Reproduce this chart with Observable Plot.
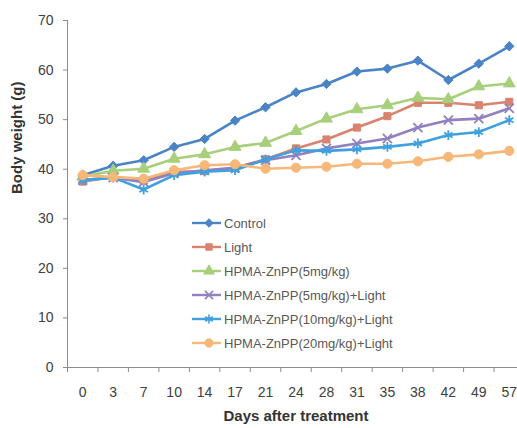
<!DOCTYPE html>
<html>
<head>
<meta charset="utf-8">
<script src="https://cdn.jsdelivr.net/npm/d3@7"></script>
<script src="https://cdn.jsdelivr.net/npm/@observablehq/plot@0.6"></script>
<style>
  html, body { margin: 0; padding: 0; background: #fff; }
  #wrap { position: relative; width: 517px; height: 428px; overflow: hidden; font-family: "Liberation Sans", Arial, sans-serif; }
  #legend { position: absolute; left: 192px; top: 211px; }
  .row { height: 24px; display: flex; align-items: center; font-size: 13px; color: #595959; white-space: nowrap; }
  .row svg { margin-right: 2px; }
</style>
</head>
<body>
<div id="wrap"><div id="legend"></div></div>
<script>
const days = ["0","3","7","10","14","17","21","24","28","31","35","38","42","49","57"];
const seriesNames = ["Control","Light","HPMA-ZnPP(5mg/kg)","HPMA-ZnPP(5mg/kg)+Light","HPMA-ZnPP(10mg/kg)+Light","HPMA-ZnPP(20mg/kg)+Light"];
const control = [38.8, 40.7, 41.8, 44.5, 46.1, 49.8, 52.5, 55.5, 57.2, 59.7, 60.3, 61.9, 58.0, 61.3, 64.8];
const light   = [37.5, 38.5, 37.7, 39.5, 39.6, 40.3, 42.0, 44.2, 46.0, 48.4, 50.7, 53.4, 53.4, 52.9, 53.6];
const hpma5   = [38.5, 39.7, 40.1, 42.1, 43.0, 44.5, 45.3, 47.7, 50.2, 52.1, 52.9, 54.4, 54.1, 56.7, 57.3];
const hpma5L  = [37.8, 38.3, 37.4, 39.2, 39.8, 40.3, 41.8, 42.8, 44.2, 45.2, 46.2, 48.4, 49.9, 50.2, 52.3];
const hpma10L = [37.8, 38.3, 35.9, 38.8, 39.5, 39.8, 42.0, 43.8, 43.7, 44.0, 44.5, 45.2, 46.9, 47.5, 49.9];
const hpma20L = [38.8, 38.4, 38.1, 39.8, 40.8, 41.0, 40.1, 40.3, 40.5, 41.1, 41.1, 41.6, 42.5, 43.0, 43.7];
const yTicks = [0, 10, 20, 30, 40, 50, 60, 70];

const allValues = [control, light, hpma5, hpma5L, hpma10L, hpma20L];
const colors = ["#4a84c6", "#d9836f", "#a7cf7c", "#9181c0", "#3fa0de", "#f6b878"];
const symbols = ["diamond2", "square", "triangle", "times", "asterisk", "circle"];
const strokeOnly = [false, false, false, true, true, false];
const sizes = [4.2, 4.0, 4.4, 4.2, 4.6, 4.6];

const table = [];
seriesNames.forEach((s, k) => allValues[k].forEach((v, i) => table.push({series: s, k, i, day: days[i], value: v})));

const marks = [
  Plot.ruleY([0], {stroke: "#8c8c8c", strokeWidth: 1}),
  Plot.ruleX([-0.5], {stroke: "#8c8c8c", strokeWidth: 1}),
  Plot.axisY({ticks: yTicks, tickSize: 4, tickPadding: 10, fontSize: 14, color: "#404040", stroke: "#8c8c8c", label: null}),
  Plot.axisX({ticks: d3.range(-0.5, days.length, 1), tickSize: 5, tickFormat: () => "", stroke: "#8c8c8c", label: null}),
  Plot.axisX({ticks: d3.range(days.length), tickSize: 0, tickPadding: 20, tickFormat: i => days[i], fontSize: 14, color: "#404040", label: null}),
  Plot.text(["Days after treatment"], {frameAnchor: "bottom", dy: 53, fontSize: 15, fontWeight: "bold", fill: "#333"}),
  Plot.text(["Body weight (g)"], {frameAnchor: "left", dx: -50, rotate: -90, fontSize: 15, fontWeight: "bold", fill: "#333"})
];
seriesNames.forEach((s, k) => {
  const data = table.filter(d => d.k === k);
  marks.push(Plot.line(data, {x: "i", y: "value", stroke: colors[k], strokeWidth: 2.6}));
  marks.push(Plot.dot(data, strokeOnly[k]
    ? {x: "i", y: "value", symbol: () => symbols[k], r: sizes[k], stroke: colors[k], strokeWidth: 1.8, fill: "none"}
    : {x: "i", y: "value", symbol: () => symbols[k], r: sizes[k], fill: colors[k], stroke: colors[k], strokeWidth: 1}));
});

const chart = Plot.plot({
  width: 517,
  height: 428,
  marginTop: 20,
  marginBottom: 61,
  marginLeft: 67,
  marginRight: -7,
  style: {fontFamily: "'Liberation Sans', Arial, sans-serif", background: "#fff"},
  x: {type: "linear", domain: [-0.5, days.length - 0.5], axis: null},
  y: {domain: [0, 70], axis: null},
  symbol: {type: "identity"},
  marks
});
document.getElementById("wrap").prepend(chart);

// Legend
const legend = d3.select("#legend");
seriesNames.forEach((s, k) => {
  const row = legend.append("div").attr("class", "row");
  const svg = row.append("svg").attr("width", 30).attr("height", 14);
  svg.append("line").attr("x1", 0).attr("x2", 29).attr("y1", 7).attr("y2", 7).attr("stroke", colors[k]).attr("stroke-width", 2.4);
  const symMap = {diamond2: d3.symbolDiamond2, square: d3.symbolSquare, triangle: d3.symbolTriangle, times: d3.symbolTimes, asterisk: d3.symbolAsterisk, circle: d3.symbolCircle};
  const r = sizes[k] * 0.9;
  const path = d3.symbol(symMap[symbols[k]], Math.PI * r * r)();
  svg.append("path").attr("d", path).attr("transform", "translate(17,7)")
    .attr("fill", strokeOnly[k] ? "none" : colors[k])
    .attr("stroke", colors[k]).attr("stroke-width", strokeOnly[k] ? 1.6 : 1);
  row.append("span").text(s);
});
</script>
</body>
</html>
